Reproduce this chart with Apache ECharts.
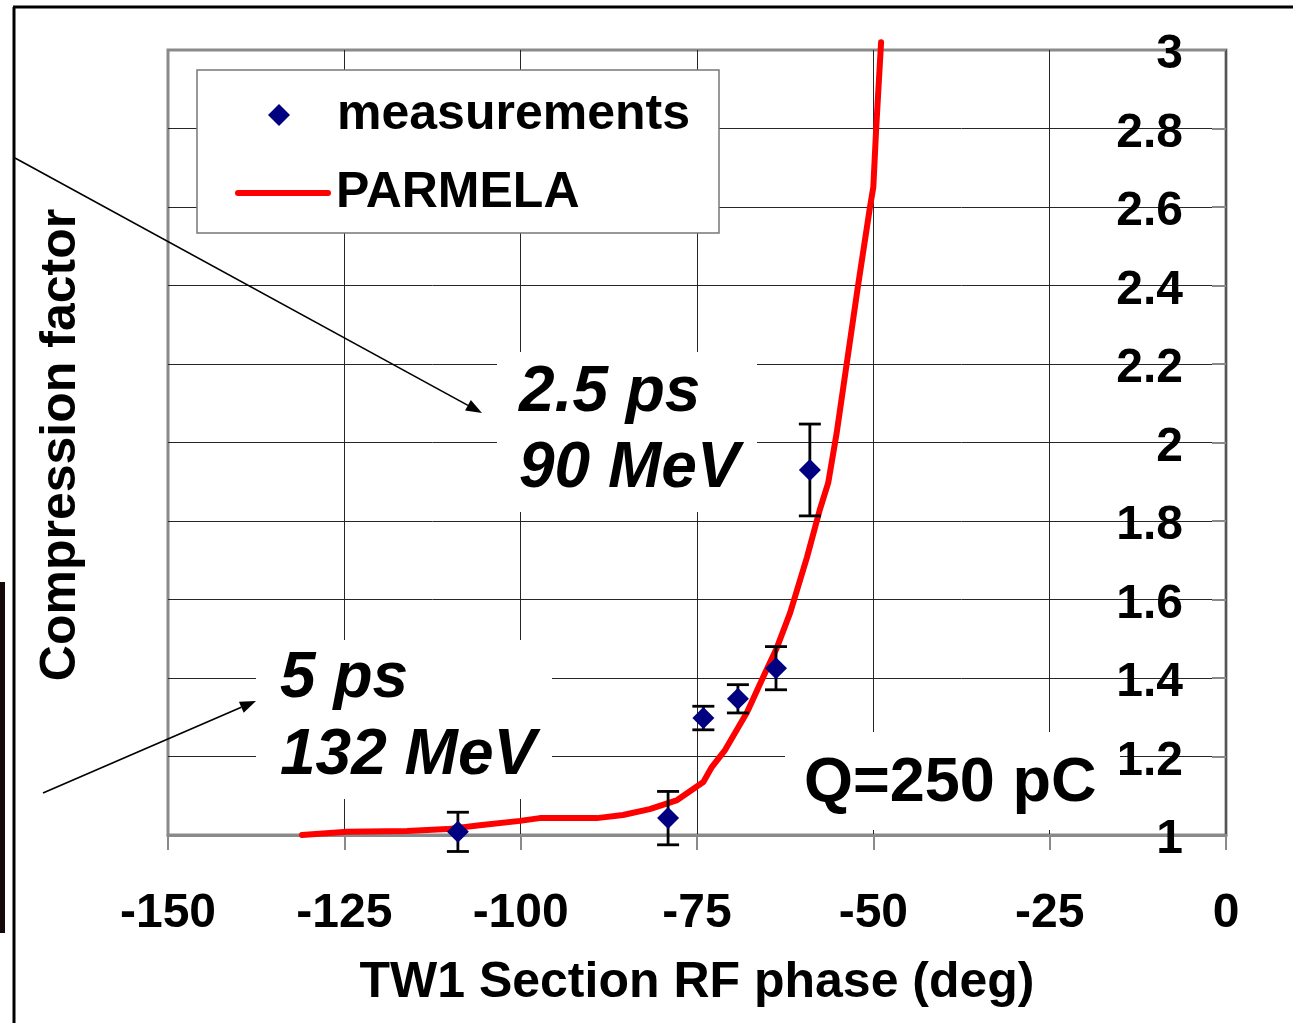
<!DOCTYPE html>
<html>
<head>
<meta charset="utf-8">
<script src="https://cdn.jsdelivr.net/npm/echarts@6/dist/echarts.min.js"></script>
<style>
  html, body { margin: 0; padding: 0; background: #fff; }
  #chart { width: 1293px; height: 1023px; }
</style>
</head>
<body>
<div id="chart"></div>
<script>
// Measured compression factor vs. TW1 section RF phase, with symmetric error
const phaseMeasured       = [-108.9, -79.1, -74.1, -69.2, -63.8, -59.0];
const compressionMeasured = [1.008, 1.043, 1.298, 1.347, 1.425, 1.930];
const compressionError    = [0.050, 0.068, 0.030, 0.036, 0.055, 0.117];

// PARMELA simulation curve
const phaseSim = [-131.0, -124.6, -116.1, -110.4, -105.8, -100.1, -97.3, -89.2, -85.5,
                  -81.7, -77.8, -74.1, -72.9, -71.0, -67.9, -65.6, -63.7, -61.8, -59.4,
                  -57.6, -56.4, -55.2, -52.2, -50.5, -50.0, -49.6, -48.9];
const compressionSim = [1.000, 1.008, 1.010, 1.015, 1.025, 1.036, 1.043, 1.043, 1.051,
                        1.066, 1.089, 1.135, 1.173, 1.217, 1.313, 1.403, 1.476, 1.566, 1.708,
                        1.828, 1.897, 2.024, 2.396, 2.597, 2.651, 2.799, 3.020];

// Axis ticks
const xTicks = [-150, -125, -100, -75, -50, -25, 0];
const yTicks = [1, 1.2, 1.4, 1.6, 1.8, 2, 2.2, 2.4, 2.6, 2.8, 3];

const seriesNames = ['measurements', 'PARMELA'];
const annotations = ['2.5 ps\n90 MeV', '5 ps\n132 MeV', 'Q=250 pC'];
const xTitle = 'TW1 Section RF phase (deg)';
const yTitle = 'Compression factor';

const FONT = '"Liberation Sans", Arial, Helvetica, sans-serif';

const measuredPoints = phaseMeasured.map((x, i) => [x, compressionMeasured[i]]);
const errorBars = phaseMeasured.map((x, i) => [
  x, compressionMeasured[i] - compressionError[i], compressionMeasured[i] + compressionError[i]
]);
const simPoints = phaseSim.map((x, i) => [x, compressionSim[i]]);

// Straight arrow with a filled head at (x2, y2)
function arrow(x1, y1, x2, y2) {
  const dx = x2 - x1, dy = y2 - y1, len = Math.hypot(dx, dy);
  const ux = dx / len, uy = dy / len, hl = 16, hw = 6;
  const bx = x2 - ux * hl, by = y2 - uy * hl;
  return [
    { type: 'line', z: 6, shape: { x1, y1, x2: bx, y2: by },
      style: { stroke: '#000', lineWidth: 1.6 } },
    { type: 'polygon', z: 6,
      shape: { points: [[x2, y2], [bx - uy * hw, by + ux * hw], [bx + uy * hw, by - ux * hw]] },
      style: { fill: '#000' } }
  ];
}

function whiteBox(x, y, w, h, z) {
  return { type: 'rect', z: z || 1, shape: { x, y, width: w, height: h },
           style: { fill: '#fff' } };
}

const chart = echarts.init(document.getElementById('chart'), null, { renderer: 'canvas' });

chart.setOption({
  animation: false,
  backgroundColor: '#fff',
  textStyle: { fontFamily: FONT },
  grid: {
    left: 168, right: 67, top: 50, bottom: 188,
    show: true, borderColor: '#8a8a8a', borderWidth: 3, backgroundColor: 'transparent',
    containLabel: false, outerBoundsMode: 'none'
  },
  xAxis: {
    type: 'value',
    min: xTicks[0], max: xTicks[xTicks.length - 1], interval: xTicks[1] - xTicks[0],
    name: xTitle, nameLocation: 'middle', nameGap: 123,
    nameTextStyle: { fontFamily: FONT, fontWeight: 'bold', fontSize: 50, color: '#000' },
    axisLine: { show: true, onZero: false, lineStyle: { color: '#8a8a8a', width: 3 } },
    axisTick: { show: true, inside: false, length: 15, lineStyle: { color: '#8a8a8a', width: 2 } },
    axisLabel: { margin: 55, fontFamily: FONT, fontWeight: 'bold', fontSize: 48, color: '#000' },
    splitLine: { show: true, showMinLine: false, showMaxLine: false,
                 lineStyle: { color: '#262626', width: 1 } }
  },
  yAxis: {
    type: 'value', position: 'right',
    min: yTicks[0], max: yTicks[yTicks.length - 1], interval: 0.2,
    axisLine: { show: true, onZero: false, lineStyle: { color: '#555', width: 2 } },
    axisTick: { show: true, inside: true, length: 14, lineStyle: { color: '#8a8a8a', width: 2 } },
    axisLabel: {
      inside: true, margin: 43, align: 'right',
      formatter: '{v|{value}}',
      rich: { v: { fontFamily: FONT, fontWeight: 'bold', fontSize: 48, color: '#000',
                   lineHeight: 48, padding: [10, 0, 0, 0] } }
    },
    splitLine: { show: true, showMinLine: false, showMaxLine: false,
                 lineStyle: { color: '#262626', width: 1 } }
  },
  legend: [
    {
      data: [seriesNames[0]], left: 268, top: 90, padding: 0,
      itemWidth: 22, itemHeight: 22, icon: 'diamond',
      itemStyle: { opacity: 1 },
      formatter: '{t|{name}}',
      textStyle: { color: '#000', rich: { t: {
        fontFamily: FONT, fontWeight: 'bold', fontSize: 50, lineHeight: 56, color: '#000',
        padding: [0, 0, 0, 42] } } }
    },
    {
      data: [seriesNames[1]], left: 235, top: 168, padding: 0,
      itemWidth: 90, itemHeight: 5,
      formatter: '{t|{name}}',
      lineStyle: { width: 6, cap: 'round' },
      textStyle: { color: '#000', rich: { t: {
        fontFamily: FONT, fontWeight: 'bold', fontSize: 50, lineHeight: 56, color: '#000',
        padding: [0, 0, 0, 3] } } }
    }
  ],
  graphic: [
    // outer frame and edge strip
    { type: 'line', z: 6, shape: { x1: 13, y1: 7, x2: 1293, y2: 7 }, style: { stroke: '#000', lineWidth: 3 } },
    { type: 'line', z: 6, shape: { x1: 14, y1: 7, x2: 14, y2: 1023 }, style: { stroke: '#000', lineWidth: 3 } },
    { type: 'rect', z: 6, shape: { x: 0, y: 582, width: 5, height: 351 }, style: { fill: '#140808' } },
    // legend frame
    { type: 'rect', z: 3, shape: { x: 197, y: 70, width: 522, height: 163 },
      style: { fill: '#fff', stroke: '#777', lineWidth: 1.5 } },
    // annotation backgrounds
    whiteBox(497, 352, 260, 160),
    whiteBox(256, 640, 296, 159),
    whiteBox(785, 732, 335, 98),
    // annotation texts
    { type: 'text', z: 7, x: 519, y: 355,
      style: { text: annotations[0], font: 'italic bold 64px ' + FONT, fill: '#000',
               lineHeight: 76, verticalAlign: 'top', align: 'left' } },
    { type: 'text', z: 7, x: 280, y: 641,
      style: { text: annotations[1], font: 'italic bold 64px ' + FONT, fill: '#000',
               lineHeight: 77, verticalAlign: 'top', align: 'left' } },
    { type: 'text', z: 7, x: 804, y: 784,
      style: { text: annotations[2], font: 'bold 63px ' + FONT, fill: '#000',
               verticalAlign: 'middle', align: 'left' } },
    // y-axis title
    { type: 'text', z: 7, x: 61, y: 445, rotation: Math.PI / 2,
      style: { text: yTitle, font: 'bold 50px ' + FONT, fill: '#000',
               align: 'center', verticalAlign: 'middle' } },
    // pointer arrows
    ...arrow(15, 158, 482, 413),
    ...arrow(43, 793, 256, 701)
  ],
  series: [
    {
      name: seriesNames[1], type: 'line', data: simPoints,
      symbol: 'none', smooth: false, clip: false, z: 2,
      lineStyle: { color: '#ff0000', width: 6, cap: 'round', join: 'round' },
      itemStyle: { color: '#ff0000' }
    },
    {
      name: 'error', type: 'custom', data: errorBars, z: 3,
      encode: { x: 0, y: [1, 2] },
      renderItem: function (params, api) {
        const x = api.value(0);
        const top = api.coord([x, api.value(2)]);
        const bot = api.coord([x, api.value(1)]);
        const hw = 11;
        const st = { stroke: '#000', lineWidth: 2.8 };
        return {
          type: 'group',
          children: [
            { type: 'line', shape: { x1: top[0], y1: top[1], x2: bot[0], y2: bot[1] }, style: st },
            { type: 'line', shape: { x1: top[0] - hw, y1: top[1], x2: top[0] + hw, y2: top[1] }, style: st },
            { type: 'line', shape: { x1: bot[0] - hw, y1: bot[1], x2: bot[0] + hw, y2: bot[1] }, style: st }
          ]
        };
      }
    },
    {
      name: seriesNames[0], type: 'scatter', data: measuredPoints, z: 4,
      symbol: 'diamond', symbolSize: 22,
      itemStyle: { color: '#000080', opacity: 1 }
    }
  ]
});
</script>
</body>
</html>
